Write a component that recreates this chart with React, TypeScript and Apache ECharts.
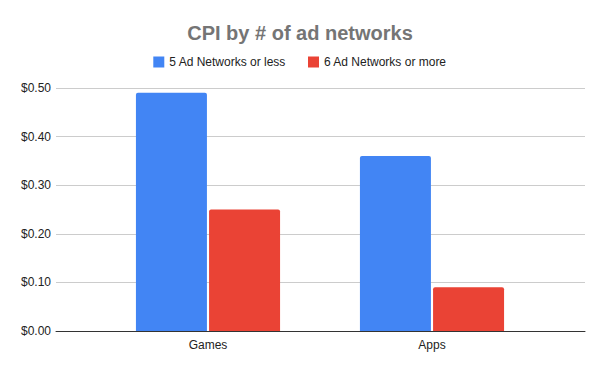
import React, { useEffect, useRef } from "react";
import * as echarts from "echarts";

const categories = ["Games", "Apps"];
const seriesNames = ["5 Ad Networks or less", "6 Ad Networks or more"];
const lessValues = [0.49, 0.36];
const moreValues = [0.25, 0.09];
const colors = ["#4285f4", "#ea4335"];

const FONT = "'Liberation Sans', Arial, sans-serif";

export default function App() {
  const ref = useRef<HTMLDivElement>(null);
  useEffect(() => {
    if (!ref.current) return;
    const chart = echarts.init(ref.current, null, { renderer: "svg" });
    chart.setOption({
      animation: false,
      backgroundColor: "#ffffff",
      title: {
        text: "CPI by # of ad networks",
        left: "center",
        top: 18,
        textStyle: { fontFamily: FONT, fontSize: 20, fontWeight: "bold", color: "#757575" },
      },
      legend: {
        top: 51,
        left: "center",
        itemWidth: 11,
        itemHeight: 11,
        itemGap: 22,
        icon: "rect",
        textStyle: { fontFamily: FONT, fontSize: 12, color: "#222222" },
        data: seriesNames,
      },
      grid: [
        { left: 56, right: 15, top: 88, bottom: 40, containLabel: false },
        { left: 96, right: 56, top: 88, bottom: 40, containLabel: false },
      ],
      xAxis: [
        {
          gridIndex: 0,
          type: "value",
          min: 0,
          max: 1,
          axisTick: { show: false },
          axisLabel: { show: false },
          splitLine: { show: false },
          axisLine: { show: true, lineStyle: { color: "#333333", width: 1 } },
        },
        {
          gridIndex: 1,
          type: "category",
          data: categories,
          axisTick: { show: false },
          axisLine: { show: false },
          axisLabel: { fontFamily: FONT, fontSize: 12, color: "#222222", margin: 8 },
        },
      ],
      yAxis: [
        {
          gridIndex: 0,
          type: "value",
          min: 0,
          max: 0.5,
          interval: 0.1,
          axisLine: { show: false },
          axisTick: { show: false },
          splitLine: { lineStyle: { color: "#cccccc" } },
          axisLabel: {
            fontFamily: FONT,
            fontSize: 12,
            color: "#222222",
            margin: 5,
            formatter: (v: number) => "$" + v.toFixed(2),
          },
        },
        {
          gridIndex: 1,
          type: "value",
          min: 0,
          max: 0.5,
          interval: 0.1,
          show: false,
          splitLine: { show: false },
        },
      ],
      series: [
        {
          name: seriesNames[0],
          type: "bar",
          xAxisIndex: 1,
          yAxisIndex: 1,
          data: lessValues,
          itemStyle: { color: colors[0], borderRadius: [2, 2, 0, 0] },
          barWidth: 71,
          barGap: "3%",
        },
        {
          name: seriesNames[1],
          type: "bar",
          xAxisIndex: 1,
          yAxisIndex: 1,
          data: moreValues,
          itemStyle: { color: colors[1], borderRadius: [2, 2, 0, 0] },
          barWidth: 71,
          barGap: "3%",
        },
      ],
    });
    return () => chart.dispose();
  }, []);
  return <div ref={ref} style={{ width: 600, height: 371, position: "absolute", left: 0, top: 0 }} />;
}
